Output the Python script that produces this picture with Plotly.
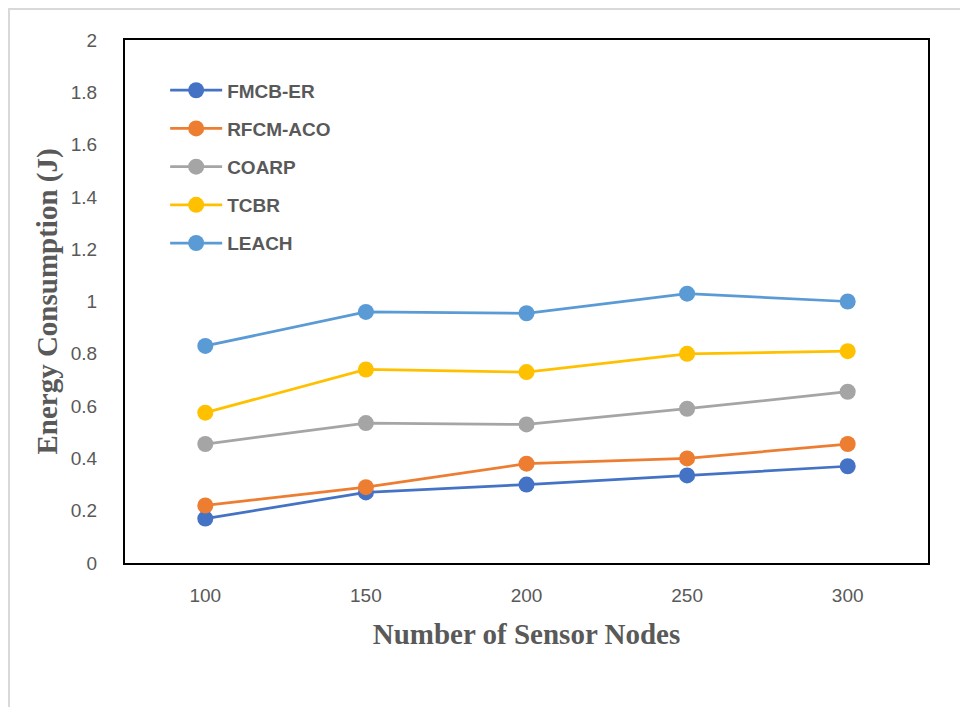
import plotly.graph_objects as go

# 데이터
nodes = ["100", "150", "200", "250", "300"]
fmcb_er = [0.17, 0.27, 0.30, 0.335, 0.37]
rfcm_aco = [0.22, 0.29, 0.38, 0.40, 0.455]
coarp = [0.455, 0.535, 0.53, 0.59, 0.655]
tcbr = [0.575, 0.74, 0.73, 0.80, 0.81]
leach = [0.83, 0.96, 0.955, 1.03, 1.0]

series = [
    ("FMCB-ER", fmcb_er, "#4472C4"),
    ("RFCM-ACO", rfcm_aco, "#ED7D31"),
    ("COARP", coarp, "#A5A5A5"),
    ("TCBR", tcbr, "#FFC000"),
    ("LEACH", leach, "#5B9BD5"),
]

fig = go.Figure()
for name, vals, color in series:
    fig.add_trace(go.Scatter(
        x=nodes, y=vals, mode="lines+markers", name=name,
        legendgroup=name,
        line=dict(color=color, width=2.75),
        marker=dict(color=color, size=16),
    ))

tick_font = dict(family="Liberation Sans Narrow, Arial Narrow, Liberation Sans, Arial", size=19, color="#595959")
title_font = dict(family="Liberation Serif, Times New Roman, serif", size=29, color="#595959")

# ページ余白(8px)を考慮
fig.update_layout(
    width=968, height=707,
    margin=dict(l=117, r=48, t=32, b=152),
    paper_bgcolor="white",
    plot_bgcolor="white",
    showlegend=True,
    legend=dict(
        x=0.05, y=0.94, xanchor="left", yanchor="top",
        bgcolor="rgba(0,0,0,0)",
        font=dict(family="Liberation Sans Narrow, Arial Narrow, Liberation Sans, Arial", size=19, color="#595959", weight="bold"),
        tracegroupgap=10.5,
        itemwidth=52,
    ),
    xaxis=dict(
        type="category",
        range=[-0.5, 4.5],
        showgrid=False, zeroline=False,
        showline=True, linecolor="black", linewidth=2, mirror=True,
        ticks="", tickfont=tick_font,
        ticklabelstandoff=14,
        title=dict(text="<b>Number of Sensor Nodes</b>", font=title_font, standoff=19),
    ),
    yaxis=dict(
        range=[0, 2], dtick=0.2,
        showgrid=False, zeroline=False,
        showline=True, linecolor="black", linewidth=2, mirror=True,
        ticks="", tickfont=tick_font,
        ticklabelstandoff=22,
        title=dict(text="<b>Energy Consumption (J)</b>", font=title_font, standoff=5),
    ),
)

# 外枠
fig.add_shape(type="rect", xref="paper", yref="paper",
              x0=-116/803, x1=1.2, y0=-0.5, y1=1 + 31/523,
              line=dict(color="#D9D9D9", width=2), layer="below")

fig.write_html("out.html")
